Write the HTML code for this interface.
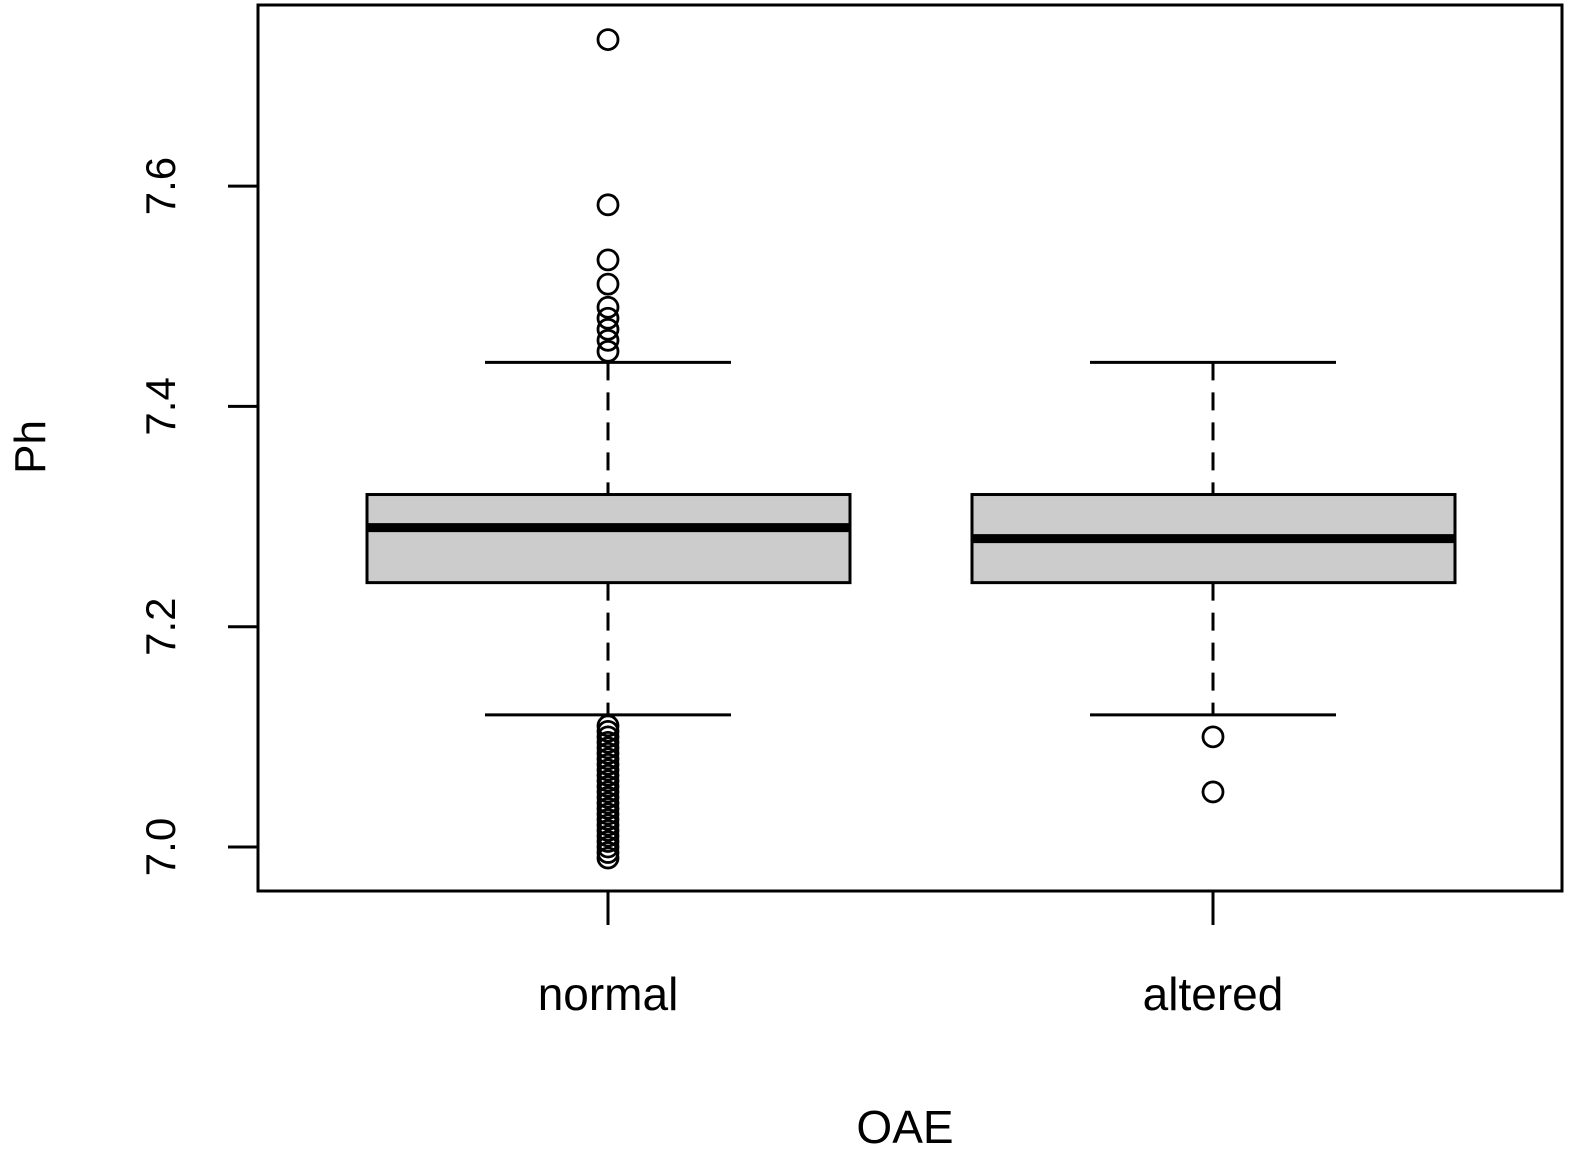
<!DOCTYPE html>
<html><head><meta charset="utf-8"><style>
html,body{margin:0;padding:0;background:#fff}
svg{display:block}
text{font-family:"Liberation Sans",Arial,sans-serif;fill:#000}
</style></head><body>
<svg id="chart" width="1591" height="1167" viewBox="0 0 1591 1167" xmlns="http://www.w3.org/2000/svg">
<rect x="258" y="5" width="1304" height="886" fill="none" stroke="#000" stroke-width="3"/>
<g id="marks"></g>
<text x="0" y="0" font-size="44" text-anchor="middle" transform="translate(45,447) rotate(-90)">Ph</text>
<text x="905" y="1143" font-size="46" text-anchor="middle">OAE</text>
</svg>
<script>
const categories = ["normal","altered"];
const q1 = [7.24, 7.24];
const q3 = [7.32, 7.32];
const medians = [7.29, 7.28];
const whiskLow = [7.12, 7.12];
const whiskHigh = [7.44, 7.44];
const outliers = [
  [7.733,7.583,7.533,7.511,7.49,7.48,7.47,7.46,7.45,
   7.11,7.105,7.10,7.095,7.09,7.085,7.08,7.075,7.07,7.065,7.06,7.055,7.05,7.045,7.04,7.035,7.03,7.025,7.02,7.015,7.01,7.005,7.0,6.995,6.99],
  [7.10,7.05]
];
const yTicks = [7.0,7.2,7.4,7.6];
const yTickLabels = ["7.0","7.2","7.4","7.6"];

const NS="http://www.w3.org/2000/svg";
function y(v){return 847-(v-7.0)*1101.5;}
function x(i){return 608+i*605;}
const g=document.getElementById('marks');
function mk(t,a){const e=document.createElementNS(NS,t);for(const k in a)e.setAttribute(k,a[k]);g.appendChild(e);return e;}

yTicks.forEach((t,i)=>{
  const l=mk('line',{x1:228,x2:258,y1:y(t),y2:y(t),stroke:'#000','stroke-width':3});
  
  
  const tx=mk('text',{x:0,y:0,'font-size':42,'text-anchor':'middle',transform:`translate(175,${y(t)}) rotate(-90)`});
  tx.textContent=yTickLabels[i];
  
  
});

categories.forEach((c,i)=>{
  const cx=x(i);
  const t=mk('line',{x1:cx,x2:cx,y1:891,y2:925,stroke:'#000','stroke-width':3});
  
  
  const lb=mk('text',{x:cx,y:1010,'font-size':46,'text-anchor':'middle'});
  lb.textContent=c;
  
  
  const w1=mk('line',{x1:cx,x2:cx,y1:y(whiskHigh[i]),y2:y(q3[i]),stroke:'#000','stroke-width':3,'stroke-dasharray':'18,12'});
  
  
  const w2=mk('line',{x1:cx,x2:cx,y1:y(q1[i]),y2:y(whiskLow[i]),stroke:'#000','stroke-width':3,'stroke-dasharray':'18,12'});
  
  
  [whiskHigh[i],whiskLow[i]].forEach(v=>{
    const cap=mk('line',{x1:cx-123,x2:cx+123,y1:y(v),y2:y(v),stroke:'#000','stroke-width':3});
    
    
  });
  const b=mk('rect',{x:cx-241,y:y(q3[i]),width:483,height:y(q1[i])-y(q3[i]),fill:'#cccccc',stroke:'#000','stroke-width':3});
  
  
  const m=mk('line',{x1:cx-241,x2:cx+241,y1:y(medians[i]),y2:y(medians[i]),stroke:'#000','stroke-width':9});
  
  
  outliers[i].forEach(v=>{
    const o=mk('circle',{cx:cx,cy:y(v),r:10,fill:'none',stroke:'#000','stroke-width':2.8});
    
    
  });
});
</script>
</body></html>
